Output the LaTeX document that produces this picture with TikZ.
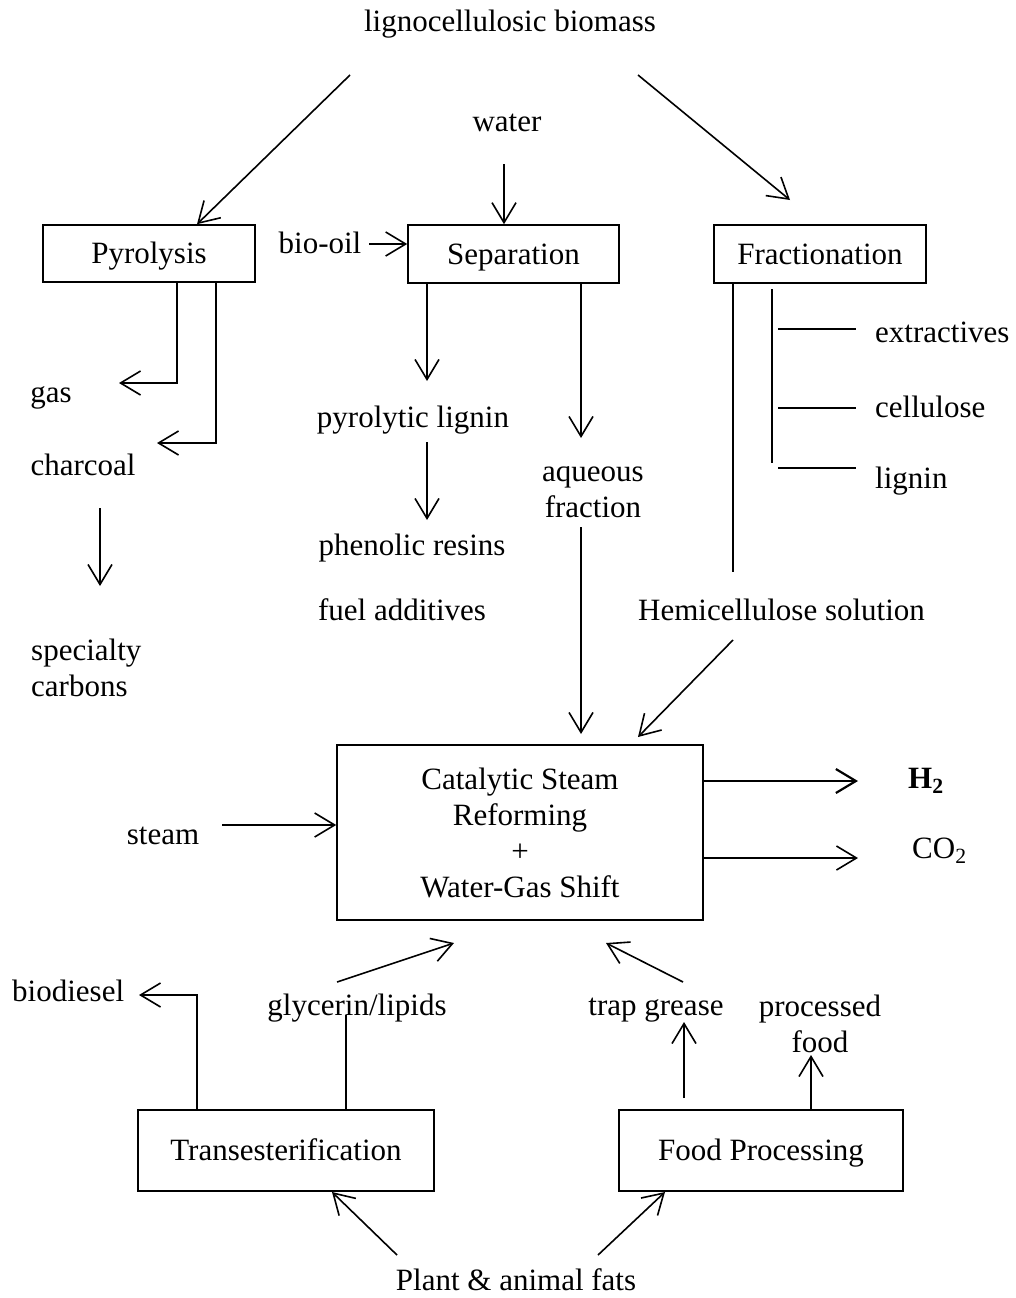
\documentclass[tikz,border=0pt]{standalone}
\usepackage{fontspec}
\setmainfont{Liberation Serif}
\usetikzlibrary{arrows.meta}
\begin{document}
\begin{tikzpicture}[x=1pt,y=-1pt,
  every node/.style={font=\fontsize{31}{36}\selectfont, inner sep=0pt},
  lbl/.style={text height=24pt, text depth=4pt},
  ml/.style={},
  box/.style={draw, line width=1.6pt, text height=24pt, text depth=4pt},
  arr/.style={line width=1.6pt, -{Straight Barb[length=20pt,width=24pt,line width=1.6pt]}},
  thickarr/.style={line width=2.6pt, -{Straight Barb[length=20pt,width=24pt,line width=2.2pt]}},
  ln/.style={line width=1.6pt}]
\useasboundingbox (0,0) rectangle (1015,1298);
% top
\node[lbl] (bio) at (510,22) {lignocellulosic biomass};
\node[lbl] (water) at (507,121) {water};
\node[box, minimum width=212pt, minimum height=57pt] (pyro) at (149,253.5) {Pyrolysis};
\node[box, minimum width=211pt, minimum height=58pt] (sep) at (513.5,254) {Separation};
\node[box, minimum width=212pt, minimum height=58pt] (frac) at (820,254) {Fractionation};
\node[lbl] (biooil) at (320,243) {bio-oil};
% pyrolysis products
\node[lbl] (gas) at (51,392) {gas};
\node[lbl] (charcoal) at (83,465) {charcoal};
\node[ml, anchor=west, align=left] (spec) at (31,668) {specialty\\carbons};
% separation products
\node[lbl] (plig) at (413,417) {pyrolytic lignin};
\node[lbl] (phen) at (412,545) {phenolic resins};
\node[lbl] (fuel) at (402,610) {fuel additives};
\node[ml, align=center] (aq) at (593,492) {aqueous\\fraction};
% fractionation products
\node[lbl, anchor=west] (extr) at (875,332) {extractives};
\node[lbl, anchor=west] (cell) at (875,407) {cellulose};
\node[lbl, anchor=west] (lign) at (875,478) {lignin};
\node[lbl, anchor=west] (hemi) at (638,610) {Hemicellulose solution};
% central
\node[draw, line width=1.6pt, minimum width=366pt, minimum height=175pt, align=center] (csr) at (520,832.5)
  {Catalytic Steam\\Reforming\\+\\Water-Gas Shift};
\node[lbl] (steam) at (163,834) {steam};
\node[lbl, anchor=west] (h2) at (908,778) {\textbf{H}\textsubscript{\textbf{2}}};
\node[lbl, anchor=west] (co2) at (912,848) {CO\textsubscript{2}};
% bottom
\node[lbl, anchor=west] (biod) at (12,991) {biodiesel};
\node[lbl] (glyc) at (357,1005) {glycerin/lipids};
\node[lbl] (trap) at (656,1005) {trap grease};
\node[ml, align=center] (proc) at (820,1024) {processed\\food};
\node[box, minimum width=296pt, minimum height=81pt] (trans) at (286,1150.5) {Transesterification};
\node[box, minimum width=284pt, minimum height=81pt] (food) at (761,1150.5) {Food Processing};
\node[lbl] (fats) at (516,1280) {Plant \& animal fats};

% connectors top
\coordinate (b1) at (350,75);
\coordinate (b2) at (638,75);
\draw[arr] (b1) -- (197,0 |- pyro.north);
\draw[arr] (b2) -- (790,200);
\draw[arr] (504,164) -- (504,0 |- sep.north);
\draw[arr] (369,244) -- (sep.west |- 0,244);
% pyrolysis
\draw[arr] (177,0 |- pyro.south) -- (177,383) -- (119,383);
\draw[arr] (216,0 |- pyro.south) -- (216,443) -- (157,443);
\draw[arr] (100,508) -- (100,586);
% separation
\draw[arr] (427,0 |- sep.south) -- (427,381);
\draw[arr] (427,442) -- (427,520);
\draw[arr] (581,0 |- sep.south) -- (581,438);
\draw[arr] (581,527) -- (581,734);
% fractionation
\draw[ln] (733,0 |- frac.south) -- (733,572);
\draw[ln] (772,289) -- (772,463);
\draw[ln] (778,329) -- (856,329);
\draw[ln] (778,408) -- (856,408);
\draw[ln] (778,468) -- (856,468);
\draw[arr] (733,640) -- (638,737);
% central
\draw[arr] (222,825) -- (csr.west |- 0,825);
\draw[thickarr] (csr.east |- 0,781) -- (858,781);
\draw[arr] (csr.east |- 0,858) -- (858,858);
% bottom
\draw[arr] (197,0 |- trans.north) -- (197,995) -- (139,995);
\draw[ln] (346,0 |- trans.north) -- (346,1015);
\draw[arr] (337,982) -- (454,943);
\draw[arr] (683,982) -- (606,943);
\draw[arr] (684,1098) -- (684,1022);
\draw[arr] (811,0 |- food.north) -- (811,1055);
\draw[arr] (397,1255) -- (332,1192);
\draw[arr] (598,1255) -- (665,1192);
\end{tikzpicture}
\end{document}
